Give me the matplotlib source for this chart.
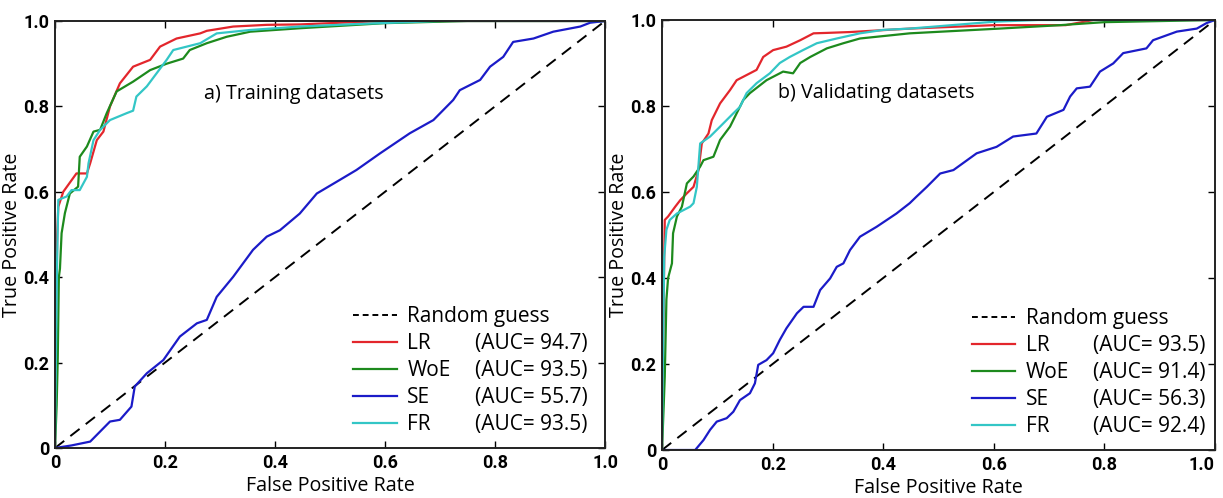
import matplotlib
matplotlib.use("Agg")
import matplotlib.pyplot as plt
from matplotlib.lines import Line2D

# ---- data (FPR, TPR) ----
guess_x = [0.0, 1.0]
guess_y = [0.0, 1.0]

# a) training datasets
train_lr_x = [0.0, 0.002, 0.004, 0.006, 0.015, 0.039, 0.058, 0.064, 0.076, 0.088, 0.100, 0.118, 0.142,
              0.173, 0.191, 0.221, 0.264, 0.276, 0.324, 0.385, 0.445, 0.52, 0.60, 1.0]
train_lr_y = [0.0, 0.30, 0.50, 0.565, 0.600, 0.643, 0.643, 0.667, 0.721, 0.741, 0.800, 0.854, 0.893,
              0.909, 0.940, 0.959, 0.971, 0.977, 0.987, 0.991, 0.992, 0.996, 1.0, 1.0]
train_woe_x = [0.0, 0.003, 0.005, 0.007, 0.009, 0.012, 0.018, 0.027, 0.042, 0.045, 0.058, 0.070, 0.082,
               0.094, 0.112, 0.142, 0.173, 0.203, 0.233, 0.245, 0.276, 0.312, 0.355, 0.445, 0.60, 0.75, 1.0]
train_woe_y = [0.0, 0.10, 0.21, 0.40, 0.42, 0.503, 0.550, 0.596, 0.612, 0.682, 0.706, 0.741, 0.745,
               0.784, 0.835, 0.858, 0.885, 0.900, 0.912, 0.932, 0.948, 0.963, 0.975, 0.983, 0.995, 1.0, 1.0]
train_se_x = [0.0, 0.030, 0.064, 0.100, 0.118, 0.139, 0.145, 0.167, 0.197, 0.227, 0.258, 0.276, 0.294,
              0.324, 0.360, 0.385, 0.409, 0.445, 0.476, 0.518, 0.548, 0.591, 0.645, 0.688, 0.724, 0.736,
              0.773, 0.791, 0.815, 0.833, 0.870, 0.906, 0.955, 0.973, 1.0]
train_se_y = [0.0, 0.006, 0.015, 0.062, 0.066, 0.097, 0.144, 0.175, 0.206, 0.261, 0.292, 0.300, 0.354,
              0.401, 0.464, 0.495, 0.510, 0.549, 0.596, 0.628, 0.651, 0.690, 0.737, 0.768, 0.815, 0.838,
              0.862, 0.893, 0.916, 0.951, 0.959, 0.975, 0.987, 0.996, 1.0]
train_fr_x = [0.0, 0.002, 0.004, 0.006, 0.021, 0.030, 0.045, 0.058, 0.061, 0.070, 0.082, 0.100, 0.130,
              0.142, 0.148, 0.167, 0.185, 0.203, 0.215, 0.264, 0.294, 0.355, 0.445, 0.55, 0.70, 1.0]
train_fr_y = [0.0, 0.25, 0.45, 0.581, 0.589, 0.604, 0.604, 0.635, 0.667, 0.721, 0.745, 0.768, 0.784,
              0.790, 0.823, 0.847, 0.878, 0.909, 0.932, 0.948, 0.971, 0.979, 0.987, 0.993, 1.0, 1.0]

# b) validating datasets
valid_lr_x = [0.0, 0.003, 0.005, 0.011, 0.024, 0.033, 0.045, 0.057, 0.066, 0.072, 0.084, 0.090, 0.105,
              0.123, 0.135, 0.153, 0.171, 0.183, 0.201, 0.225, 0.250, 0.274, 0.298, 0.340, 0.448, 0.60,
              0.73, 0.78, 1.0]
valid_lr_y = [0.0, 0.35, 0.535, 0.543, 0.566, 0.581, 0.597, 0.612, 0.651, 0.713, 0.736, 0.767, 0.806,
              0.837, 0.860, 0.872, 0.884, 0.914, 0.930, 0.938, 0.953, 0.969, 0.970, 0.972, 0.980, 0.988,
              0.988, 1.0, 1.0]
valid_woe_x = [0.0, 0.003, 0.005, 0.008, 0.011, 0.018, 0.020, 0.027, 0.036, 0.045, 0.057, 0.069, 0.075,
               0.093, 0.105, 0.123, 0.135, 0.147, 0.159, 0.189, 0.219, 0.237, 0.250, 0.268, 0.298, 0.328,
               0.358, 0.418, 0.448, 0.61, 0.72, 0.80, 1.0]
valid_woe_y = [0.0, 0.10, 0.17, 0.35, 0.40, 0.434, 0.504, 0.543, 0.566, 0.620, 0.636, 0.659, 0.674,
               0.682, 0.721, 0.752, 0.783, 0.814, 0.830, 0.860, 0.880, 0.876, 0.900, 0.914, 0.934, 0.946,
               0.957, 0.965, 0.969, 0.980, 0.988, 0.995, 1.0]
valid_se_x = [0.0, 0.045, 0.060, 0.075, 0.087, 0.099, 0.117, 0.129, 0.141, 0.159, 0.168, 0.174, 0.189,
              0.201, 0.213, 0.225, 0.244, 0.256, 0.274, 0.286, 0.304, 0.316, 0.328, 0.340, 0.358, 0.388,
              0.424, 0.448, 0.460, 0.479, 0.503, 0.527, 0.569, 0.605, 0.635, 0.677, 0.696, 0.726, 0.738,
              0.750, 0.774, 0.792, 0.816, 0.834, 0.876, 0.888, 0.931, 0.967, 0.985, 1.0]
valid_se_y = [0.0, 0.0, 0.0, 0.023, 0.047, 0.066, 0.074, 0.089, 0.116, 0.132, 0.155, 0.198, 0.209,
              0.225, 0.256, 0.283, 0.318, 0.333, 0.333, 0.372, 0.399, 0.426, 0.434, 0.465, 0.496, 0.519,
              0.550, 0.574, 0.589, 0.612, 0.643, 0.651, 0.690, 0.705, 0.729, 0.736, 0.775, 0.791, 0.822,
              0.841, 0.845, 0.880, 0.899, 0.923, 0.934, 0.953, 0.973, 0.980, 0.993, 1.0]
valid_fr_x = [0.0, 0.002, 0.004, 0.008, 0.014, 0.027, 0.039, 0.051, 0.057, 0.063, 0.069, 0.087, 0.105,
              0.129, 0.141, 0.153, 0.171, 0.195, 0.213, 0.231, 0.255, 0.280, 0.316, 0.358, 0.400, 0.448,
              0.60, 0.68, 1.0]
valid_fr_y = [0.0, 0.25, 0.45, 0.512, 0.535, 0.550, 0.558, 0.566, 0.574, 0.612, 0.713, 0.729, 0.752,
              0.783, 0.798, 0.830, 0.853, 0.876, 0.900, 0.914, 0.930, 0.946, 0.957, 0.969, 0.977, 0.980,
              0.996, 1.0, 1.0]

model_names = ["LR", "WoE", "SE", "FR"]
train_auc = ["94.7", "93.5", "55.7", "93.5"]
valid_auc = ["93.5", "91.4", "56.3", "92.4"]

colors = ["#e3262c", "#1d8a1d", "#1b1bc8", "#33c6c6"]
tick_font = ["Roboto", "DejaVu Sans"]
text_font = ["Open Sans", "DejaVu Sans"]


def draw_panel(ax, curves, aucs, title, title_x, hx, ax_auc):
    ax.plot(guess_x, guess_y, color="black", linestyle=(0, (6, 4)), linewidth=1.4)
    for (xs, ys), c in zip(curves, colors):
        ax.plot(xs, ys, color=c, linewidth=1.6)

    ax.set_xlim(0, 1)
    ax.set_ylim(0, 1)
    ticks = [0, 0.2, 0.4, 0.6, 0.8, 1.0]
    labels = ["0", "0.2", "0.4", "0.6", "0.8", "1.0"]
    ax.set_xticks(ticks)
    ax.set_yticks(ticks)
    ax.set_xticklabels(labels, fontfamily=tick_font, fontweight="bold", fontsize=13)
    ax.set_yticklabels(labels, fontfamily=tick_font, fontweight="bold", fontsize=13)
    ax.tick_params(direction="in", length=5, top=True, right=True, width=1, pad=4)
    for s in ax.spines.values():
        s.set_linewidth(1.4)
        s.set_color("#222222")

    ax.set_xlabel("False Positive Rate", fontfamily=text_font, fontsize=14.2, labelpad=3)
    ax.set_ylabel("True Positive Rate", fontfamily=text_font, fontsize=14.2, labelpad=1)
    ax.text(title_x, 0.83, title, transform=ax.transAxes, fontfamily=text_font,
            fontsize=14.2, va="center", ha="left")

    handles = [Line2D([], [], color="black", linestyle=(0, (3, 2)), linewidth=1.4)]
    handles += [Line2D([], [], color=c, linewidth=1.6) for c in colors]
    leg1 = ax.legend(handles, ["Random guess"] + model_names, loc="lower left",
                     bbox_to_anchor=(hx, 0.03), frameon=False, borderpad=0,
                     borderaxespad=0, handlelength=2.1, handletextpad=0.5,
                     labelspacing=0.29, prop={"family": text_font, "size": 15})
    ax.add_artist(leg1)
    blank = [Line2D([], [], color="none") for _ in range(5)]
    ax.legend(blank, [" "] + ["(AUC= %s)" % a for a in aucs], loc="lower left",
              bbox_to_anchor=(ax_auc, 0.03), frameon=False, borderpad=0,
              borderaxespad=0, handlelength=0, handletextpad=0,
              labelspacing=0.29, prop={"family": text_font, "size": 15})


fig = plt.figure(figsize=(12.23, 4.98), dpi=100, facecolor="white")
ax1 = fig.add_axes([55 / 1223, 50 / 498, 550 / 1223, 427 / 498])
ax2 = fig.add_axes([662 / 1223, 48 / 498, 553 / 1223, 430 / 498])

draw_panel(ax1, [(train_lr_x, train_lr_y), (train_woe_x, train_woe_y),
                 (train_se_x, train_se_y), (train_fr_x, train_fr_y)],
           train_auc, "a) Training datasets", 0.27, 0.542, 0.764)
draw_panel(ax2, [(valid_lr_x, valid_lr_y), (valid_woe_x, valid_woe_y),
                 (valid_se_x, valid_se_y), (valid_fr_x, valid_fr_y)],
           valid_auc, "b) Validating datasets", 0.21, 0.56, 0.779)

# keep the last x label of the right panel inside the figure
ax2.get_xticklabels()[-1].set_horizontalalignment("right")

fig.savefig("out.png", dpi=100, facecolor="white")
